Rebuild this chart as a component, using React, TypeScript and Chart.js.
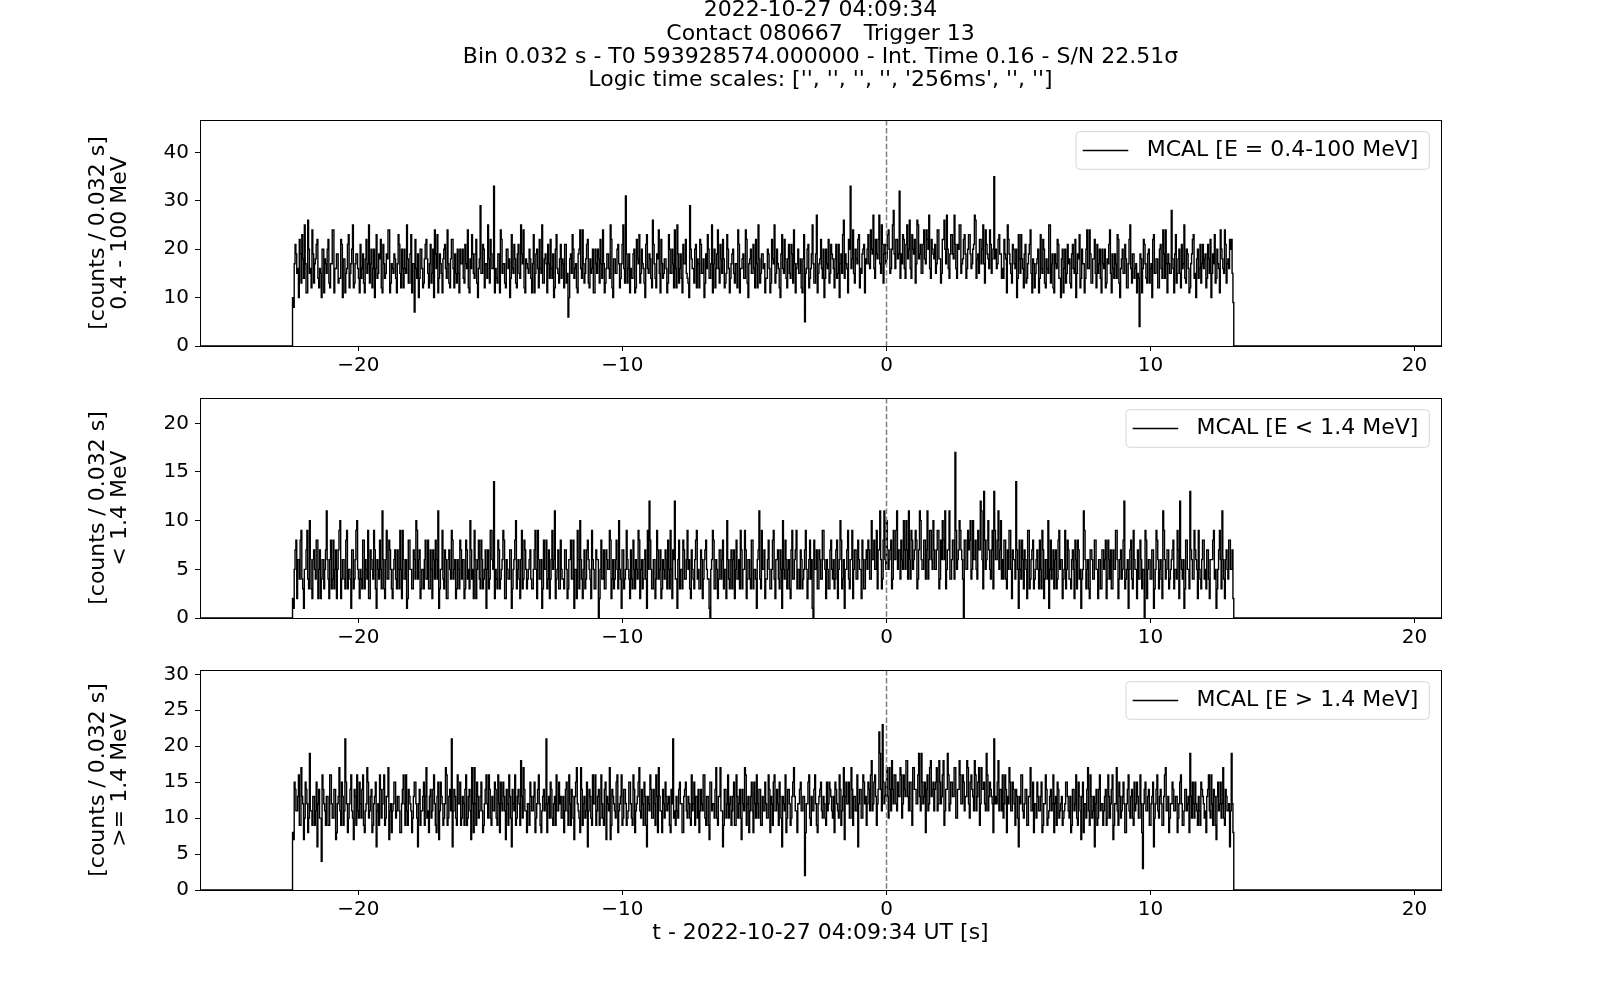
import React, { useEffect, useRef } from 'react';
import { Chart, registerables } from 'chart.js';

Chart.register(...registerables);

const FONT = '"DejaVu Sans", "Liberation Sans", sans-serif';

// ---------------- data ----------------
const TITLE_LINES = [
  '2022-10-27 04:09:34',
  'Contact 080667   Trigger 13',
  'Bin 0.032 s - T0 593928574.000000 - Int. Time 0.16 - S/N 22.51\u03c3',
  "Logic time scales: ['', '', '', '', '256ms', '', '']",
];
const X_LABEL = 't - 2022-10-27 04:09:34 UT [s]';
const T_START = -22.496; // start of the first bin [s]
const BIN = 0.032; // bin width [s]
const TRIGGER_T = 0;
const X_MIN = -26;
const X_MAX = 21;
const X_TICKS = [-20, -10, 0, 10, 20];

const LEGEND_LABELS = ['MCAL [E = 0.4-100 MeV]', 'MCAL [E < 1.4 MeV]', 'MCAL [E > 1.4 MeV]'];
const Y_LABELS = [
  ['[counts / 0.032 s]', '0.4 - 100 MeV'],
  ['[counts / 0.032 s]', '< 1.4 MeV'],
  ['[counts / 0.032 s]', '>= 1.4 MeV'],
];
const Y_MAX = [46.7, 22.6, 30.6];
const Y_TICKS = [
  [0, 10, 20, 30, 40],
  [0, 5, 10, 15, 20],
  [0, 5, 10, 15, 20, 25, 30],
];

const COUNTS_TOTAL = [
  10,8,17,21,19,15,16,10,22,19,13,23,18,14,25,17,11,11,26,20,15,16,12,24,19,13,17,18,21,22,14,12,16,15,10,20,20,11,18,17,
  15,20,22,13,12,17,17,24,24,11,16,16,19,19,13,14,14,22,21,10,18,18,11,15,16,21,23,12,15,17,20,25,12,13,17,19,19,16,14,11,
  21,14,16,19,13,11,18,22,15,17,25,13,17,20,12,16,20,10,16,23,14,15,19,18,22,12,11,21,17,14,15,19,18,24,24,11,13,17,16,15,
  19,18,14,11,17,23,21,15,12,20,16,12,20,16,15,25,18,13,13,19,23,11,17,17,7,22,16,14,19,10,14,20,20,16,12,13,18,21,22,18,
  15,12,17,21,13,15,20,10,24,19,16,23,11,14,19,17,15,11,18,20,21,16,14,24,17,13,12,18,22,22,16,12,19,15,13,20,15,11,20,17,
  17,20,14,13,21,17,16,24,12,11,18,16,23,19,15,14,19,22,13,10,16,18,29,15,15,21,20,12,17,17,14,25,18,13,22,19,16,16,33,11,
  16,14,13,19,19,11,24,22,15,17,17,13,12,20,20,16,18,10,14,23,16,15,21,18,13,12,19,21,15,14,25,19,17,24,12,11,18,17,16,15,
  20,18,14,11,17,23,11,15,19,20,16,12,22,16,15,25,13,13,18,19,17,11,21,17,14,22,16,14,19,10,12,20,23,16,15,13,18,21,14,18,
  17,12,21,21,13,15,6,10,18,19,15,23,20,14,16,17,12,11,19,20,24,16,14,24,17,13,15,18,21,22,13,12,18,15,16,20,11,11,20,17,
  15,20,18,13,22,17,14,24,17,11,13,16,19,19,16,14,25,22,12,10,18,18,15,15,20,21,17,12,14,17,21,25,16,13,31,19,13,16,19,11,
  16,14,14,19,20,11,12,22,18,17,23,13,15,20,17,16,13,10,21,23,16,15,19,18,14,12,26,21,17,14,12,19,18,24,15,11,22,17,14,15,
  18,18,16,11,13,23,20,15,15,20,17,12,24,16,12,25,19,13,16,19,14,11,21,17,17,22,15,14,13,10,29,20,18,16,16,13,20,21,12,18,
  17,12,22,21,15,15,18,10,13,19,16,23,20,14,14,17,25,11,17,20,12,16,19,24,16,13,21,18,15,22,18,12,13,15,23,20,16,11,14,17,
  19,20,15,13,17,17,12,24,21,11,16,16,18,19,14,14,24,22,13,10,17,18,20,15,15,21,16,12,22,17,12,25,18,13,15,19,19,16,17,11,
  14,14,20,19,16,11,13,22,18,17,25,13,15,20,17,16,12,10,19,23,16,15,22,18,14,12,18,21,15,14,21,19,13,24,17,11,16,17,20,15,
  15,18,12,11,18,23,5,15,16,20,21,12,14,16,19,25,17,13,13,19,27,11,15,17,18,22,16,14,20,10,14,20,17,16,22,13,15,21,19,18,
  16,12,18,21,14,15,21,10,17,19,15,23,26,14,19,17,16,11,22,20,33,16,18,24,15,13,20,18,17,22,23,12,16,15,19,20,21,11,18,17,
  20,23,17,16,24,20,19,27,16,14,22,19,18,22,27,17,15,25,21,13,19,21,17,18,23,24,20,15,16,20,25,28,19,16,22,22,18,19,32,14,
  19,17,23,22,16,14,21,25,18,20,26,16,14,23,20,19,22,13,17,26,25,18,19,21,15,15,21,24,18,17,24,22,20,27,16,14,22,20,19,18,
  21,15,17,24,24,18,18,13,15,22,22,26,20,17,27,20,16,14,19,23,23,19,18,27,21,16,14,21,20,25,25,15,17,18,22,23,19,14,16,20,
  23,23,19,16,17,20,21,27,26,14,18,19,15,22,22,17,20,25,17,13,24,21,19,18,16,24,21,15,18,20,35,18,20,16,17,22,23,19,19,14,
  16,14,22,19,18,11,25,22,19,17,15,13,21,20,17,16,20,10,14,23,18,15,23,18,16,12,19,21,13,14,17,19,21,24,15,11,18,17,12,15,
  17,18,20,11,14,23,16,15,22,20,13,12,18,16,15,25,25,13,17,19,12,11,19,17,16,22,21,14,14,10,18,20,11,16,20,13,15,21,17,18,
  13,12,19,21,16,15,22,10,15,19,18,23,12,14,20,17,17,11,14,20,24,16,16,24,19,13,13,18,18,22,15,12,21,15,17,20,14,11,20,17,
  16,20,12,13,18,17,21,24,15,11,19,16,14,19,17,14,23,22,13,10,16,18,20,15,15,21,18,12,12,17,22,25,16,13,19,19,14,16,17,11,
  15,14,4,19,18,11,16,22,21,17,14,13,19,20,13,16,17,10,22,23,15,15,18,18,12,12,20,21,16,14,24,19,14,24,17,11,19,17,15,15,
  28,18,16,11,19,23,13,15,18,20,15,12,21,16,17,25,14,13,20,19,16,11,12,17,19,22,23,14,15,10,18,20,14,16,21,13,17,21,16,18,
  19,12,14,21,18,15,22,10,15,19,17,23,13,14,20,17,16,11,24,20,18,16,15,24,21,13,17,18,16,22,20,22,15,9,
];

const COUNTS_LOW = [
  2,1,5,7,8,2,6,6,4,8,9,4,3,1,5,5,7,9,4,3,10,6,3,2,6,7,5,4,8,8,2,5,7,2,4,6,6,3,5,7,
  11,6,4,2,6,8,3,4,8,3,5,7,2,5,7,9,10,2,4,6,6,4,3,8,9,3,5,5,4,1,7,7,3,4,6,9,10,5,4,2,
  5,4,3,8,8,3,6,5,4,9,2,2,7,6,5,4,9,7,3,1,6,5,4,8,5,3,11,6,3,2,6,9,4,4,8,7,5,3,2,5,
  6,7,4,3,7,5,3,9,5,2,9,6,4,4,6,1,2,8,8,5,5,3,3,7,6,4,10,9,4,6,7,2,3,5,5,3,6,8,4,4,
  8,3,3,7,5,2,7,6,4,8,6,4,11,1,3,5,5,9,4,3,7,6,2,2,6,7,5,4,9,8,4,5,6,2,3,6,5,3,8,7,
  4,6,6,2,3,8,7,4,5,3,10,7,4,5,2,9,6,2,5,6,8,4,3,8,6,3,4,5,7,1,5,7,3,4,9,9,6,5,14,2,
  5,4,3,8,7,3,4,5,6,9,8,2,2,6,5,4,4,7,7,1,3,5,6,8,10,3,5,6,4,2,6,9,3,4,8,7,5,3,4,5,
  6,7,4,3,3,5,7,9,5,2,9,6,4,4,6,1,3,8,5,5,8,3,4,7,2,4,6,9,5,6,11,2,4,5,7,3,3,8,5,4,
  4,3,7,7,5,2,3,6,6,8,4,4,8,1,5,5,2,9,6,3,10,6,4,2,5,7,3,4,7,8,6,5,4,2,9,6,5,3,3,7,
  6,6,0,2,5,8,4,4,7,3,3,7,6,5,5,9,8,2,4,6,3,4,6,8,5,3,10,5,4,1,7,7,3,4,5,9,6,5,4,2,
  7,4,3,8,5,3,6,5,4,9,8,2,5,6,3,4,6,7,4,1,9,5,12,8,5,3,3,6,6,2,4,9,7,4,5,7,2,3,6,5,
  4,7,6,3,8,5,3,9,5,2,7,6,12,4,4,1,6,8,3,5,5,3,8,7,4,4,6,9,5,6,3,2,7,5,4,3,6,8,9,4,
  5,3,3,7,6,2,4,6,7,8,5,4,4,1,0,5,6,9,8,3,3,6,5,2,4,7,7,4,6,8,3,5,5,2,10,6,4,3,6,7,
  3,6,7,2,5,8,4,4,6,3,9,7,3,5,5,9,7,2,4,6,6,4,3,8,8,3,5,5,4,1,6,7,11,4,3,9,5,5,7,2,
  4,4,6,8,5,3,3,5,8,9,4,2,6,6,7,4,3,7,5,1,10,5,4,8,6,3,5,6,3,2,7,9,4,4,6,7,9,3,5,5,
  3,7,6,3,4,5,7,9,5,2,4,6,8,4,6,1,0,8,5,5,7,3,3,7,6,4,4,9,9,6,5,2,6,5,3,3,7,8,5,4,
  6,3,4,7,8,2,5,6,10,8,3,4,6,1,5,5,7,9,4,3,6,6,9,2,5,7,7,4,4,8,6,5,5,2,8,6,3,3,6,7,
  5,8,7,4,4,10,6,6,8,5,5,9,3,7,7,11,6,3,4,8,11,6,5,10,7,5,6,7,8,3,4,9,6,6,9,11,5,7,7,4,
  8,6,5,10,7,5,10,7,4,11,6,4,9,8,5,6,7,9,8,3,4,7,11,10,6,5,5,8,8,4,7,11,4,6,9,9,6,5,10,7,
  5,5,7,9,9,3,4,8,6,10,8,6,11,3,5,7,7,11,4,4,6,8,8,4,17,9,5,6,7,10,9,7,6,4,0,8,8,5,5,9,
  7,8,10,4,5,10,6,6,8,5,4,9,7,7,12,11,6,3,13,8,5,6,8,10,7,5,4,7,9,3,13,9,6,6,8,11,5,7,10,4,
  6,4,8,8,4,3,7,5,9,9,5,2,7,6,6,4,14,7,5,1,8,5,4,8,6,3,7,6,5,2,9,9,3,4,6,7,8,3,4,5,
  6,7,5,3,8,5,3,9,7,2,4,6,6,4,10,1,5,8,4,5,7,3,6,7,3,4,8,9,5,6,6,2,4,5,9,3,5,8,7,4,
  4,3,6,7,5,2,8,6,3,8,7,4,5,1,4,5,11,9,6,3,5,6,3,2,7,7,6,4,4,8,8,5,5,2,6,6,3,3,7,7,
  5,6,8,2,4,8,6,4,7,3,3,7,5,5,9,9,6,2,4,6,7,4,5,8,12,3,4,5,6,1,5,7,8,4,3,9,6,5,5,2,
  7,4,4,8,6,3,5,5,0,9,8,2,5,6,6,4,4,7,7,1,3,5,9,8,6,3,5,6,4,2,11,9,6,4,5,7,7,3,4,5,
  6,7,8,3,5,5,4,9,7,2,12,6,5,4,6,1,3,8,8,5,5,3,13,7,6,4,4,9,7,6,5,2,9,5,4,3,6,8,8,4,
  5,3,7,7,4,2,6,6,6,8,9,4,5,1,3,5,7,9,6,3,11,6,4,2,6,7,5,4,8,8,5,5,7,2,
];

const COUNTS_HIGH = [
  8,7,15,14,11,11,13,16,9,9,17,13,12,7,10,15,14,12,8,10,19,11,11,9,13,13,9,11,15,6,12,14,10,10,4,16,14,12,11,9,
  13,13,9,9,16,16,12,10,10,14,14,7,8,12,13,17,11,9,15,13,9,11,21,15,12,8,10,12,14,16,11,10,7,14,13,9,16,11,10,15,
  12,10,14,16,9,8,11,12,17,15,10,11,13,14,8,9,12,13,15,6,11,12,9,16,14,10,12,14,16,9,10,13,13,17,7,11,12,8,11,12,
  15,15,10,11,13,13,11,8,8,12,14,16,12,9,16,11,9,14,13,12,11,8,10,13,15,15,12,10,6,12,14,9,11,11,13,15,9,13,17,10,
  11,8,13,14,10,11,14,16,12,9,8,13,15,7,11,15,13,12,9,10,12,17,16,9,10,13,14,11,21,6,11,14,13,10,9,16,12,12,15,9,
  10,13,12,9,14,16,9,10,13,14,11,7,17,12,8,17,12,9,15,13,10,11,13,15,11,8,9,12,14,16,12,10,16,14,10,9,13,11,11,15,
  14,10,9,16,12,8,15,12,11,15,13,11,7,14,12,9,16,13,10,6,14,12,11,16,9,10,13,14,12,9,18,13,10,17,14,11,11,8,12,12,
  9,15,13,11,11,13,15,8,10,12,14,16,12,9,8,11,13,14,11,12,21,8,12,13,10,15,14,10,9,12,13,9,16,11,11,15,12,13,10,10,
  13,8,11,14,15,11,9,16,12,9,14,13,10,7,13,15,17,12,11,10,8,17,14,9,12,13,10,11,15,6,11,14,13,10,9,16,12,12,16,9,
  11,13,14,9,10,16,12,10,9,14,15,7,13,12,11,17,7,9,14,13,12,11,10,15,16,8,11,12,13,16,9,10,14,14,12,9,10,11,15,15,
  12,10,9,16,14,8,11,12,13,15,17,11,10,14,12,9,15,13,9,6,13,12,11,16,14,10,10,14,12,9,16,13,8,17,13,11,11,8,14,12,
  10,15,13,11,12,13,9,8,14,12,21,10,11,9,13,11,10,14,15,12,12,8,8,13,14,15,11,10,13,12,10,9,16,11,12,15,9,13,13,10,
  14,8,11,14,12,11,16,16,10,9,13,13,9,7,15,15,11,12,12,10,14,17,10,9,13,13,17,11,11,6,9,14,14,10,12,16,10,12,13,9,
  11,13,15,9,9,16,13,10,12,14,10,7,14,12,11,17,16,9,12,13,8,11,13,15,11,8,15,12,10,16,12,10,14,14,9,9,13,11,11,15,
  12,10,10,16,14,8,13,12,9,15,16,11,11,14,12,9,15,13,10,6,13,12,11,16,8,10,14,14,12,9,10,13,15,17,13,11,11,8,12,12,
  14,15,11,11,13,13,2,8,12,12,15,16,10,9,13,11,11,14,16,12,9,8,12,13,14,15,11,10,13,12,10,9,15,11,12,15,14,13,11,10,
  13,8,15,14,12,11,10,16,14,9,11,13,17,7,13,15,12,12,15,10,10,17,14,9,13,13,11,11,16,6,12,14,14,10,10,16,15,12,13,9,
  12,15,14,11,16,18,11,12,15,16,13,9,12,14,22,19,14,11,23,15,12,13,15,17,13,10,17,14,11,18,14,12,16,16,12,11,15,13,13,17,
  16,10,12,16,14,13,18,18,13,11,15,15,11,9,17,17,14,14,12,12,16,19,13,11,19,15,12,13,15,8,14,16,11,12,17,18,13,14,15,11,
  14,15,17,11,12,18,15,12,13,16,18,9,11,14,14,19,16,11,12,15,15,13,13,17,17,10,10,14,14,18,16,12,12,16,15,11,13,13,18,17,
  12,10,15,16,14,13,11,18,16,11,13,15,17,9,12,17,14,14,15,12,11,19,16,11,13,15,14,13,12,8,21,12,13,12,15,18,11,14,14,11,
  16,10,12,16,14,8,13,12,17,15,11,11,15,14,12,9,14,13,10,6,13,12,16,16,11,10,12,14,14,9,9,13,13,17,11,11,15,8,12,12,
  10,15,13,11,11,13,15,8,9,12,12,16,14,9,10,11,13,14,11,12,16,8,12,13,9,15,14,10,11,12,13,9,10,11,12,15,15,13,11,10,
  13,8,9,14,14,11,12,16,10,9,15,13,11,7,13,15,8,12,12,10,14,17,11,9,16,13,10,11,13,6,12,14,9,10,14,16,11,12,12,9,
  11,13,14,9,10,16,13,10,12,14,16,7,9,12,12,17,11,9,15,13,10,11,13,15,12,8,8,12,14,16,11,10,13,14,10,9,15,11,12,15,
  13,10,10,16,12,8,3,12,14,15,11,11,13,14,9,9,12,13,15,6,10,12,14,16,11,10,13,14,12,9,9,13,16,17,11,11,13,8,10,12,
  12,15,14,11,11,13,13,8,10,12,15,16,12,9,9,11,14,14,11,12,13,8,19,13,10,15,12,10,15,12,11,9,13,11,9,15,14,13,12,10,
  11,8,13,14,16,11,10,16,12,9,14,13,9,7,13,15,11,12,15,10,12,17,10,9,14,13,11,11,12,6,11,19,12,8,
];

const SERIES = [COUNTS_TOTAL, COUNTS_LOW, COUNTS_HIGH];

// ---------------- layout (pixels) ----------------
const LAYOUT = [
  { top: 0, height: 380, padTop: 0, xAxisH: 34 },
  { top: 380, height: 272, padTop: 12, xAxisH: 34 },
  { top: 652, height: 348, padTop: 12, xAxisH: 110 },
];
const Y_AXIS_W = 200;
const PAD_RIGHT = 159;

function buildPoints(values: number[]) {
  const pts: { x: number; y: number }[] = [{ x: X_MIN, y: 0 }];
  values.forEach((v, i) => pts.push({ x: T_START + i * BIN, y: v }));
  pts.push({ x: T_START + values.length * BIN, y: 0 });
  pts.push({ x: X_MAX, y: 0 });
  return pts;
}

const fmtTick = (v: any) => {
  const n = Number(v);
  return n < 0 ? '\u2212' + Math.abs(n) : String(n);
};

const decorPlugin = {
  id: 'decor',
  afterDatasetsDraw(chart: any) {
    const { ctx, chartArea: a, scales } = chart;
    const x0 = scales.x.getPixelForValue(TRIGGER_T);
    ctx.save();
    ctx.strokeStyle = '#808080';
    ctx.lineWidth = 1.5;
    ctx.setLineDash([5.5, 2.4]);
    ctx.beginPath();
    ctx.moveTo(x0, a.top);
    ctx.lineTo(x0, a.bottom);
    ctx.stroke();
    ctx.restore();
  },
  afterDraw(chart: any, _args: any, opts: any) {
    const { ctx, chartArea: a } = chart;
    if (opts && opts.text) {
      ctx.save();
      ctx.font = '22px ' + FONT;
      const w = ctx.measureText(opts.text).width;
      const boxRight = a.right - 11.7;
      const boxTop = a.top + 11.7;
      const boxH = 37.6;
      const textEnd = boxRight - 11;
      const textStart = textEnd - w;
      const lineEnd = textStart - 18.4;
      const lineStart = lineEnd - 45.6;
      const boxLeft = lineStart - 6.7;
      const r = 4;
      ctx.beginPath();
      ctx.moveTo(boxLeft + r, boxTop);
      ctx.lineTo(boxRight - r, boxTop);
      ctx.arcTo(boxRight, boxTop, boxRight, boxTop + r, r);
      ctx.lineTo(boxRight, boxTop + boxH - r);
      ctx.arcTo(boxRight, boxTop + boxH, boxRight - r, boxTop + boxH, r);
      ctx.lineTo(boxLeft + r, boxTop + boxH);
      ctx.arcTo(boxLeft, boxTop + boxH, boxLeft, boxTop + boxH - r, r);
      ctx.lineTo(boxLeft, boxTop + r);
      ctx.arcTo(boxLeft, boxTop, boxLeft + r, boxTop, r);
      ctx.closePath();
      ctx.fillStyle = 'rgba(255,255,255,0.8)';
      ctx.fill();
      ctx.strokeStyle = '#d6d6d6';
      ctx.lineWidth = 1;
      ctx.stroke();
      const cy = boxTop + boxH / 2;
      ctx.strokeStyle = '#000';
      ctx.lineWidth = 1.5;
      ctx.beginPath();
      ctx.moveTo(lineStart, cy);
      ctx.lineTo(lineEnd, cy);
      ctx.stroke();
      ctx.fillStyle = '#000';
      ctx.textBaseline = 'middle';
      ctx.textAlign = 'left';
      ctx.fillText(opts.text, textStart, cy);
      ctx.restore();
    }
    ctx.save();
    ctx.strokeStyle = '#000';
    ctx.lineWidth = 1;
    ctx.strokeRect(Math.round(a.left) + 0.5, Math.round(a.top) + 0.5, Math.round(a.right - a.left), Math.round(a.bottom - a.top));
    ctx.restore();
  },
};

function makeConfig(k: number): any {
  const L = LAYOUT[k];
  const tickFont = { family: FONT, size: 20 };
  const grid = { display: true, drawOnChartArea: false, drawTicks: true, tickLength: 5, color: '#000', lineWidth: 1 };
  return {
    type: 'line',
    data: {
      datasets: [
        {
          data: buildPoints(SERIES[k]),
          borderColor: '#000',
          borderWidth: 1.4,
          pointRadius: 0,
          stepped: 'before',
          fill: false,
          tension: 0,
        },
      ],
    },
    options: {
      animation: false,
      responsive: false,
      events: [],
      parsing: false,
      normalized: true,
      layout: { padding: { left: 0, right: PAD_RIGHT, top: L.padTop, bottom: 0 } },
      plugins: {
        legend: { display: false },
        tooltip: { enabled: false },
        title: {
          display: k === 0,
          text: TITLE_LINES,
          fullSize: false,
          color: '#000',
          font: { family: FONT, size: 22, weight: 'normal', lineHeight: 1.06 },
          padding: { top: -1, bottom: 27.7 },
        },
        decor: { text: LEGEND_LABELS[k] },
      },
      scales: {
        x: {
          type: 'linear',
          min: X_MIN,
          max: X_MAX,
          afterBuildTicks: (s: any) => {
            s.ticks = X_TICKS.map((value) => ({ value }));
          },
          afterFit: (s: any) => {
            s.height = L.xAxisH;
          },
          ticks: { color: '#000', font: tickFont, padding: 3, maxRotation: 0, autoSkip: false, callback: fmtTick },
          grid,
          border: { display: false },
          title: {
            display: k === 2,
            text: X_LABEL,
            color: '#000',
            font: { family: FONT, size: 22, lineHeight: 1.2 },
            padding: { top: 0, bottom: 54 },
          },
        },
        y: {
          type: 'linear',
          min: 0,
          max: Y_MAX[k],
          afterBuildTicks: (s: any) => {
            s.ticks = Y_TICKS[k].map((value) => ({ value }));
          },
          afterFit: (s: any) => {
            s.width = Y_AXIS_W;
          },
          ticks: { color: '#000', font: tickFont, padding: 6, autoSkip: false, callback: fmtTick },
          grid,
          border: { display: false },
          title: {
            display: true,
            text: Y_LABELS[k],
            color: '#000',
            font: { family: FONT, size: 22, lineHeight: 1.0 },
            padding: { top: 87, bottom: 0 },
          },
        },
      },
    },
    plugins: [decorPlugin],
  };
}

export default function App() {
  const r0 = useRef<HTMLCanvasElement>(null);
  const r1 = useRef<HTMLCanvasElement>(null);
  const r2 = useRef<HTMLCanvasElement>(null);
  const refs = [r0, r1, r2];
  useEffect(() => {
    const charts = refs.map((r, k) => new Chart(r.current as HTMLCanvasElement, makeConfig(k)));
    return () => charts.forEach((c) => c.destroy());
  }, []);
  return (
    <div style={{ position: 'absolute', left: 0, top: 0, width: 1600, height: 1000, background: '#fff', overflow: 'hidden' }}>
      {LAYOUT.map((L, k) => (
        <canvas
          key={k}
          ref={refs[k]}
          width={1600}
          height={L.height}
          style={{ position: 'absolute', left: 0, top: L.top, width: 1600, height: L.height, display: 'block' }}
        />
      ))}
    </div>
  );
}
